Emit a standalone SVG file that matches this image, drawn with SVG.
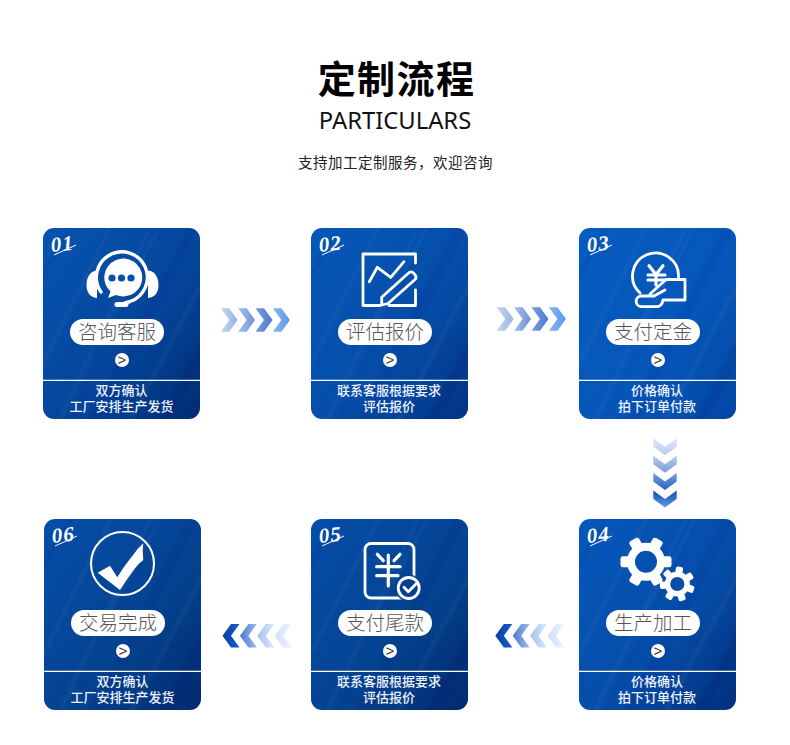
<svg xmlns="http://www.w3.org/2000/svg" width="790" height="745" viewBox="0 0 790 745">
<style>
.t{font-family:"Noto Sans CJK SC","Noto Sans",sans-serif;text-anchor:middle}
.title{font-size:38px;font-weight:700;letter-spacing:1.4px;fill:#000}
.en{font-family:"Noto Sans","Open Sans",sans-serif;font-size:23.8px;fill:#111;text-anchor:middle}
.sub{font-size:14.5px;fill:#222;letter-spacing:.5px}
.pilltx{font-size:19.5px;fill:#555;font-weight:300}
.desc{font-size:13px;font-weight:500;fill:#eef3ff}
.num{font-family:"Liberation Serif",serif;font-weight:700;font-style:italic;font-size:21px;fill:#fff;letter-spacing:1px}
.go{font-family:"Liberation Sans",sans-serif;font-size:15px;fill:#333;text-anchor:middle}
.pill{fill:#fff}
.sep{stroke:#fff;stroke-width:1.4}
.slash{stroke:#fff;stroke-width:1;fill:none}
.ln{fill:none;stroke:#fff;stroke-width:2.8;stroke-linecap:round;stroke-linejoin:round}
.fl{fill:#fff}
</style>
<defs>
<linearGradient id="c1" x1="0" y1="0" x2="1" y2="1"><stop offset="0" stop-color="#0654b0"/><stop offset=".6" stop-color="#04449a"/><stop offset="1" stop-color="#012c70"/></linearGradient>
<linearGradient id="c2" x1="0" y1="0" x2="1" y2="1"><stop offset="0" stop-color="#0658ba"/><stop offset=".6" stop-color="#054ca6"/><stop offset="1" stop-color="#023484"/></linearGradient>
<linearGradient id="c3" x1="0" y1="0" x2="1" y2="1"><stop offset="0" stop-color="#075cc0"/><stop offset=".6" stop-color="#0556b8"/><stop offset="1" stop-color="#0346a4"/></linearGradient>
<linearGradient id="c4" x1="0" y1="0" x2="1" y2="1"><stop offset="0" stop-color="#0658bc"/><stop offset=".6" stop-color="#054ca6"/><stop offset="1" stop-color="#022f7c"/></linearGradient>
<linearGradient id="c5" x1="0" y1="0" x2="1" y2="1"><stop offset="0" stop-color="#054eaa"/><stop offset=".6" stop-color="#04428f"/><stop offset="1" stop-color="#012a6e"/></linearGradient>
<clipPath id="cardClip"><rect width="157" height="191" rx="11"/></clipPath>
<filter id="soft" x="-10%" y="-10%" width="120%" height="120%"><feGaussianBlur stdDeviation="1"/></filter>
<g id="streaks" filter="url(#soft)">
<polygon points="-10,150 70,-10 74,-10 -10,160" fill="#fff" opacity=".035"/>
<polygon points="10,200 110,-10 113,-10 15,200" fill="#fff" opacity=".035"/>
<polygon points="22,200 122,-10 124,-10 25,200" fill="#001f66" opacity=".07"/>
<polygon points="40,200 150,-10 160,-10 55,200" fill="#002a80" opacity=".08"/>
<polygon points="80,200 170,30 170,40 86,200" fill="#fff" opacity=".035"/>
<polygon points="110,200 170,90 170,115 122,200" fill="#001f66" opacity=".1"/>
<polygon points="-10,60 30,-10 35,-10 -10,70" fill="#001f66" opacity=".08"/>
<polygon points="60,100 120,-10 123,-10 64,100" fill="#fff" opacity=".03"/>
</g>
<polygon id="chev" points="0,0 8.5,0 17,11.7 8.5,23.4 0,23.4 8.5,11.7"/>
<rect id="tb" x="-5.5" y="-25.5" width="11" height="10" rx="2.5" fill="#fff"/>
<rect id="ts" x="-3.6" y="-17.5" width="7.2" height="7" rx="1.8" fill="#fff"/>
<linearGradient id="r1"><stop offset="0" stop-color="#c6d6ef"/><stop offset="1" stop-color="#9ab4e0"/></linearGradient>
<linearGradient id="r2"><stop offset="0" stop-color="#a6bee8"/><stop offset="1" stop-color="#6e92d4"/></linearGradient>
<linearGradient id="r3"><stop offset="0" stop-color="#7a9ee0"/><stop offset="1" stop-color="#4a7ad0"/></linearGradient>
<linearGradient id="r4"><stop offset="0" stop-color="#8ab4f4"/><stop offset="1" stop-color="#5c96ec"/></linearGradient>
<linearGradient id="d1" x1="0" y1="0" x2="1" y2="0"><stop offset="0" stop-color="#dfe8f8"/><stop offset="1" stop-color="#b8ccee"/></linearGradient>
<linearGradient id="d2" x1="0" y1="0" x2="1" y2="0"><stop offset="0" stop-color="#b8ccee"/><stop offset="1" stop-color="#7a9cdc"/></linearGradient>
<linearGradient id="d3" x1="0" y1="0" x2="1" y2="0"><stop offset="0" stop-color="#7a9cdc"/><stop offset="1" stop-color="#2a62c4"/></linearGradient>
<linearGradient id="d4" x1="0" y1="0" x2="1" y2="0"><stop offset="0" stop-color="#0a4cb8"/><stop offset="1" stop-color="#6a98e4"/></linearGradient>
<linearGradient id="l1"><stop offset="0" stop-color="#1a5cc4"/><stop offset="1" stop-color="#0640a8"/></linearGradient>
<linearGradient id="l2"><stop offset="0" stop-color="#a0bcec"/><stop offset="1" stop-color="#4a78d0"/></linearGradient>
<linearGradient id="l3"><stop offset="0" stop-color="#dce8fa"/><stop offset="1" stop-color="#a4c0f0"/></linearGradient>
<linearGradient id="l4"><stop offset="0" stop-color="#eef4fe"/><stop offset="1" stop-color="#cfdffa"/></linearGradient>
</defs>
<rect width="790" height="745" fill="#fff"/>

<g id="header">
<text class="t title" x="396.5" y="93">定制流程</text>
<text class="en" x="395" y="129">PARTICULARS</text>
<text class="t sub" x="395.5" y="168">支持加工定制服务，欢迎咨询</text>
</g>

<g id="connectors">
<g id="arrow-1-2" transform="translate(220.7,308.3)"><use href="#chev" fill="url(#r1)"/><use href="#chev" x="17.4" fill="url(#r2)"/><use href="#chev" x="34.8" fill="url(#r3)"/><use href="#chev" x="52.2" fill="url(#r4)"/></g>
<g id="arrow-2-3" transform="translate(496.7,307.3)"><use href="#chev" fill="url(#r1)"/><use href="#chev" x="17.4" fill="url(#r2)"/><use href="#chev" x="34.8" fill="url(#r3)"/><use href="#chev" x="52.2" fill="url(#r4)"/></g>
<g id="arrow-3-4" transform="translate(676.7,438.3) rotate(90)"><use href="#chev" fill="url(#d1)"/><use href="#chev" x="17.4" fill="url(#d2)"/><use href="#chev" x="34.8" fill="url(#d3)"/><use href="#chev" x="52.2" fill="url(#d4)"/></g>
<g id="arrow-4-5" transform="translate(564.5,647.4) rotate(180)"><use href="#chev" fill="url(#l4)"/><use href="#chev" x="17.4" fill="url(#l3)"/><use href="#chev" x="34.8" fill="url(#l2)"/><use href="#chev" x="52.2" fill="url(#l1)"/></g>
<g id="arrow-5-6" transform="translate(291.7,647.4) rotate(180)"><use href="#chev" fill="url(#l4)"/><use href="#chev" x="17.4" fill="url(#l3)"/><use href="#chev" x="34.8" fill="url(#l2)"/><use href="#chev" x="52.2" fill="url(#l1)"/></g>
</g>

<g id="node-1">
<g transform="translate(43,228)" clip-path="url(#cardClip)"><rect width="157" height="191" fill="url(#c1)"/><use href="#streaks"/></g>
<text class="num" x="51.5" y="252" transform="rotate(-6 52 252)">01</text>
<path class="slash" d="M54,255 L76,245"/>
<path class="fl" d="M108,298 L110.5,291.5 A19 19 0 1 1 116,295 Z"/>
<circle cx="112" cy="278" r="3.6" fill="#0650ae"/><circle cx="121.5" cy="278" r="3.6" fill="#0650ae"/><circle cx="131" cy="278" r="3.6" fill="#0650ae"/>
<path class="ln" style="stroke-width:3.4" stroke-linecap="butt" d="M101,292 A25.5 25.5 0 1 1 130,301.5 L125,303"/>
<path class="ln" style="stroke-width:5" d="M117,304.5 H126"/>
<path class="fl" d="M97,270.5 C89,271 86.5,279 86.5,285 C86.5,291 89,297.5 97,298 Z"/>
<path class="fl" d="M148,270.5 C156,271 158.5,279 158.5,285 C158.5,291 156,297.5 148,298 Z"/>
<rect class="pill" x="70" y="319" width="94" height="26" rx="13"/>
<text class="t pilltx" x="117" y="339">咨询客服</text>
<circle class="pill" cx="122" cy="360" r="7"/>
<text class="go" x="122" y="365">&gt;</text>
<line class="sep" x1="43" y1="380.4" x2="200" y2="380.4"/>
<text class="t desc" x="121.5" y="395">双方确认</text>
<text class="t desc" x="121.5" y="411">工厂安排生产发货</text>
</g>

<g id="node-2">
<g transform="translate(311,228)" clip-path="url(#cardClip)"><rect width="157" height="191" fill="url(#c2)"/><use href="#streaks"/></g>
<text class="num" x="319.5" y="252" transform="rotate(-6 320 252)">02</text>
<path class="slash" d="M322,255 L344,245"/>
<path class="ln" stroke-linecap="butt" stroke-linejoin="miter" d="M380,305.5 H363 V254 H415.5 V263 M389,305.5 H415.5 V290"/>
<path class="ln" d="M369.3,281.7 L377.3,267.3 L390.7,277.3 L404,261.7"/>
<path class="ln" d="M381.7,305 L381.7,297.3 L408.3,273.3 Q411,270.5 414,273.5 L415.5,275.5 Q417,278 414.5,280 L388,303.5 Z"/>
<rect class="pill" x="338" y="319" width="94" height="26" rx="13"/>
<text class="t pilltx" x="385" y="339">评估报价</text>
<circle class="pill" cx="390" cy="360" r="7"/>
<text class="go" x="390" y="365">&gt;</text>
<line class="sep" x1="311" y1="380.4" x2="468" y2="380.4"/>
<text class="t desc" x="389" y="395">联系客服根据要求</text>
<text class="t desc" x="389" y="411">评估报价</text>
</g>

<g id="node-3">
<g transform="translate(579,228)" clip-path="url(#cardClip)"><rect width="157" height="191" fill="url(#c3)"/><use href="#streaks"/></g>
<text class="num" x="587.5" y="252" transform="rotate(-6 588 252)">03</text>
<path class="slash" d="M590,255 L612,245"/>
<path class="ln" stroke-linecap="butt" d="M640,293 A23 23 0 1 1 678.5,277"/>
<path class="ln" style="stroke-width:3.2" d="M649,265.7 L656,274.5 L663,265.7 M648,275 H665 M648,280 H665 M656,274.5 V285"/>
<path class="ln" d="M650,294 L666,279.5 H685 V300 H663 Q662,306.7 656,306.7 H641.5 A5.3 5.3 0 0 1 641.5,296 H654 L665,290"/>
<rect class="pill" x="606" y="319" width="94" height="26" rx="13"/>
<text class="t pilltx" x="653" y="339">支付定金</text>
<circle class="pill" cx="658" cy="360" r="7"/>
<text class="go" x="658" y="365">&gt;</text>
<line class="sep" x1="579" y1="380.4" x2="736" y2="380.4"/>
<text class="t desc" x="657" y="395">价格确认</text>
<text class="t desc" x="657" y="411">拍下订单付款</text>
</g>

<g id="node-4">
<g transform="translate(579,519)" clip-path="url(#cardClip)"><rect width="157" height="191" fill="url(#c4)"/><use href="#streaks"/></g>
<text class="num" x="587.5" y="543" transform="rotate(-6 588 543)">04</text>
<path class="slash" d="M590,546 L612,536"/>
<g transform="translate(646,561.7)">
<circle r="15" fill="none" stroke="#fff" stroke-width="8"/>
<use href="#tb" transform="rotate(30)"/><use href="#tb" transform="rotate(90)"/><use href="#tb" transform="rotate(150)"/><use href="#tb" transform="rotate(210)"/><use href="#tb" transform="rotate(270)"/><use href="#tb" transform="rotate(330)"/>
</g>
<g transform="translate(677.3,584)">
<circle r="15" fill="#064ea8"/>
<circle r="9.8" fill="none" stroke="#fff" stroke-width="5.4"/>
<use href="#ts" transform="rotate(8)"/><use href="#ts" transform="rotate(59)"/><use href="#ts" transform="rotate(110)"/><use href="#ts" transform="rotate(162)"/><use href="#ts" transform="rotate(213)"/><use href="#ts" transform="rotate(265)"/><use href="#ts" transform="rotate(316)"/>
</g>
<rect class="pill" x="606" y="610" width="94" height="26" rx="13"/>
<text class="t pilltx" x="653" y="630">生产加工</text>
<circle class="pill" cx="658" cy="651" r="7"/>
<text class="go" x="658" y="656">&gt;</text>
<line class="sep" x1="579" y1="671.4" x2="736" y2="671.4"/>
<text class="t desc" x="657" y="686">价格确认</text>
<text class="t desc" x="657" y="702">拍下订单付款</text>
</g>

<g id="node-5">
<g transform="translate(311,519)" clip-path="url(#cardClip)"><rect width="157" height="191" fill="url(#c5)"/><use href="#streaks"/></g>
<text class="num" x="319.5" y="543" transform="rotate(-6 320 543)">05</text>
<path class="slash" d="M322,546 L344,536"/>
<rect x="365" y="543.5" width="49" height="54.5" rx="6" fill="none" stroke="#fff" stroke-width="2.8"/>
<path class="ln" style="stroke-width:3.2" d="M377.3,554.3 L383.3,560.7 M400,554.3 L394,560.7 M376.7,566.7 H400 M376.7,575.7 H398 M388.3,555 V586"/>
<circle cx="408.7" cy="588" r="13.5" fill="#043f90"/>
<circle cx="408.7" cy="588" r="10.5" fill="none" stroke="#fff" stroke-width="2.8"/>
<path class="ln" d="M404,587.3 L408.3,591.7 L416.7,583.3"/>
<rect class="pill" x="338" y="610" width="94" height="26" rx="13"/>
<text class="t pilltx" x="385" y="630">支付尾款</text>
<circle class="pill" cx="390" cy="651" r="7"/>
<text class="go" x="390" y="656">&gt;</text>
<line class="sep" x1="311" y1="671.4" x2="468" y2="671.4"/>
<text class="t desc" x="389" y="686">联系客服根据要求</text>
<text class="t desc" x="389" y="702">评估报价</text>
</g>

<g id="node-6">
<g transform="translate(44,519)" clip-path="url(#cardClip)"><rect width="157" height="191" fill="url(#c5)"/><use href="#streaks"/></g>
<text class="num" x="52.5" y="543" transform="rotate(-6 53 543)">06</text>
<path class="slash" d="M55,546 L77,536"/>
<circle cx="122.5" cy="563.5" r="31.5" fill="none" stroke="#fff" stroke-width="2"/>
<path class="fl" d="M97.7,572.7 L110,565.7 L117.3,577.3 Q124,566 131.7,556.7 Q137,549 143.3,543.3 Q142,551 143.3,560 Q138,564 135,568.3 Q127,579 120,590 Z"/>
<rect class="pill" x="71" y="610" width="94" height="26" rx="13"/>
<text class="t pilltx" x="118" y="630">交易完成</text>
<circle class="pill" cx="123" cy="651" r="7"/>
<text class="go" x="123" y="656">&gt;</text>
<line class="sep" x1="44" y1="671.4" x2="201" y2="671.4"/>
<text class="t desc" x="122.5" y="686">双方确认</text>
<text class="t desc" x="122.5" y="702">工厂安排生产发货</text>
</g>
</svg>
